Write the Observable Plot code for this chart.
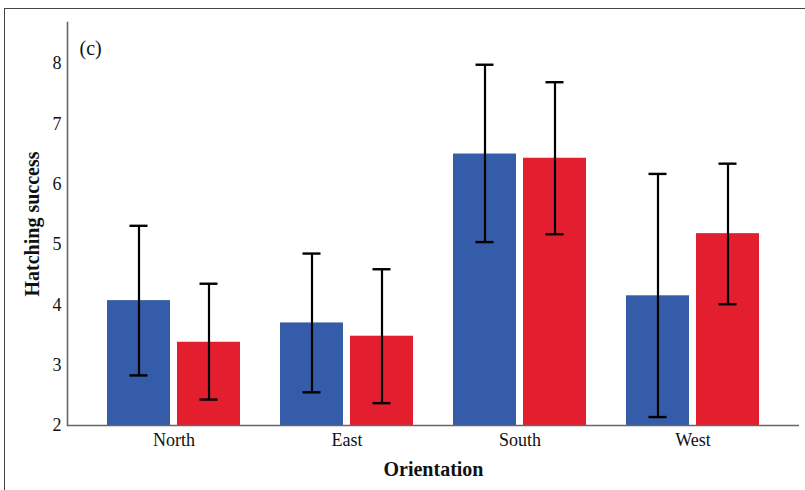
<!DOCTYPE html>
<html>
<head>
<meta charset="utf-8">
<script src="https://cdn.jsdelivr.net/npm/d3@7"></script>
<script src="https://cdn.jsdelivr.net/npm/@observablehq/plot@0.6"></script>
<style>
  html, body { margin: 0; padding: 0; background: #fff; }
  #wrap { position: relative; width: 805px; height: 490px; overflow: hidden; }
  #border { position: absolute; left: 4px; top: 8px; width: 900px; height: 600px;
            border-left: 1.5px solid #444; border-top: 1.5px solid #444; }
  #chart { position: absolute; left: 0; top: 0; }
</style>
</head>
<body>
<div id="wrap"><div id="border"></div><div id="chart"></div></div>
<script>
const orientations = ["North", "East", "South", "West"];
const seriesNames = ["Group 1", "Group 2"];
const seriesColors = ["#355ca8", "#e31e2f"];
const blueMean = [4.07, 3.70, 6.50, 4.15];
const blueLow  = [2.83, 2.55, 5.04, 2.14];
const blueHigh = [5.31, 4.85, 7.98, 6.17];
const redMean  = [3.38, 3.48, 6.43, 5.18];
const redLow   = [2.43, 2.37, 5.17, 4.01];
const redHigh  = [4.35, 4.59, 7.69, 6.34];
const yTicks = [2, 3, 4, 5, 6, 7, 8];
const panelLabel = "(c)";
const xTitle = "Orientation";
const yTitle = "Hatching success";

const blue = orientations.map((o, i) => ({orientation: o, mean: blueMean[i], lo: blueLow[i], hi: blueHigh[i]}));
const red  = orientations.map((o, i) => ({orientation: o, mean: redMean[i], lo: redLow[i], hi: redHigh[i]}));

const off = 35;
const serif = "Liberation Serif, Times New Roman, serif";

function seriesMarks(data, color, dx) {
  return [
    Plot.barY(data, {x: "orientation", y1: () => 2, y2: "mean", fill: color, insetLeft: off, insetRight: off, dx}),
    Plot.ruleX(data, {x: "orientation", y1: "lo", y2: "hi", stroke: "#000", strokeWidth: 2.2, dx}),
    Plot.tickY(data, {x: "orientation", y: "hi", stroke: "#000", strokeWidth: 2.4, insetLeft: 57.5, insetRight: 57.5, dx}),
    Plot.tickY(data, {x: "orientation", y: "lo", stroke: "#000", strokeWidth: 2.4, insetLeft: 57.5, insetRight: 57.5, dx})
  ];
}

const chart = Plot.plot({
  width: 805,
  height: 490,
  marginLeft: 67,
  marginRight: 6,
  marginTop: 22,
  marginBottom: 65,
  style: {fontFamily: serif, color: "#111", background: "transparent"},
  x: {domain: orientations, paddingInner: 0.231, paddingOuter: 0.231, label: null},
  y: {domain: [2, 8.68], label: null},
  marks: [
    ...seriesMarks(blue, seriesColors[0], -off),
    ...seriesMarks(red, seriesColors[1], off),
    Plot.axisX({tickSize: 0, tickPadding: 8, fontSize: 18, label: null}),
    Plot.axisY({ticks: yTicks, tickFormat: "d", tickSize: 0, tickPadding: 6, fontSize: 18, label: null}),
    Plot.ruleY([2], {stroke: "#666", strokeWidth: 1.6}),
    Plot.frame({anchor: "left", stroke: "#666", strokeWidth: 1.6}),
    Plot.text([panelLabel], {frameAnchor: "top-left", dx: 12, dy: 26, fontSize: 20, textAnchor: "start", lineAnchor: "middle"}),
    Plot.text([xTitle], {frameAnchor: "bottom", dy: 50, fontSize: 20, fontWeight: "bold"}),
    Plot.text([yTitle], {frameAnchor: "left", dx: -35, rotate: -90, fontSize: 20, fontWeight: "bold", textAnchor: "middle"})
  ]
});
document.getElementById("chart").appendChild(chart);
</script>
</body>
</html>
